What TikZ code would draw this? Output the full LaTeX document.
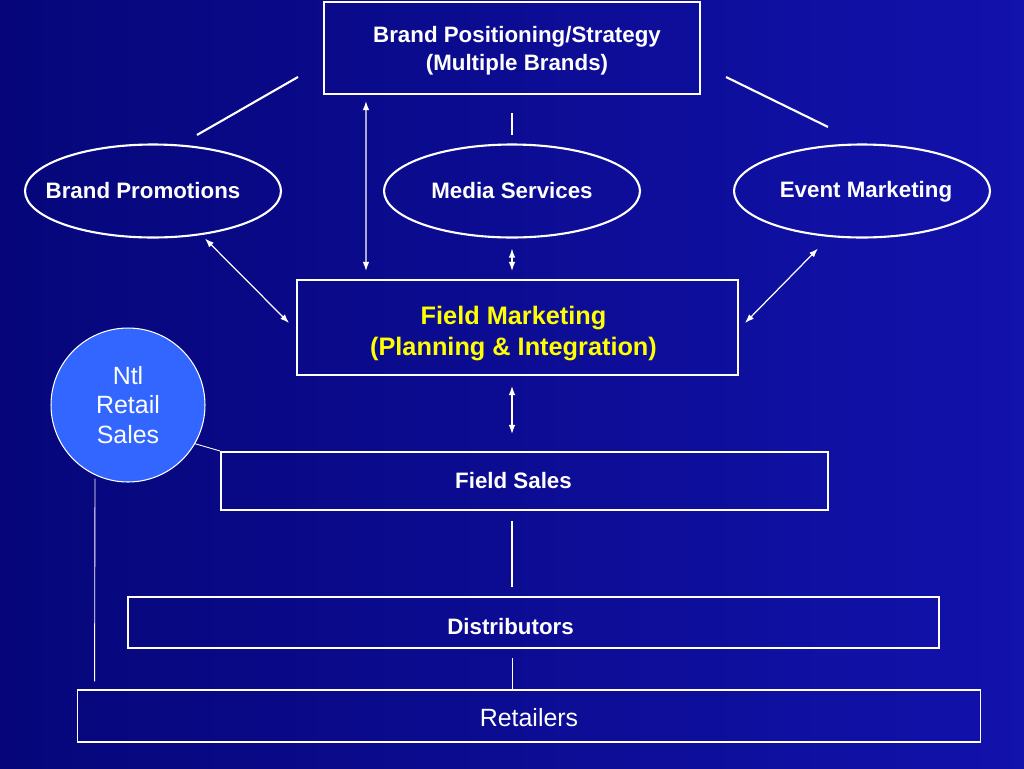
\documentclass[tikz,border=0pt]{standalone}
\usepackage{fontspec}
\setmainfont{Liberation Sans}
\usetikzlibrary{arrows.meta}
\usetikzlibrary{shapes}
\usetikzlibrary{calc}
\definecolor{bgblue}{RGB}{18,18,172}
\definecolor{bgdark}{RGB}{6,6,122}
\definecolor{ntlblue}{RGB}{51,102,255}
\definecolor{fmyellow}{RGB}{255,255,0}

\begin{document}
\begin{tikzpicture}[x=0.02cm, y=-0.02cm,
  box/.style={draw=white, line width=1.2pt, inner sep=0pt},
  oval/.style={ellipse, draw=white, line width=1.2pt, inner sep=0pt,
    minimum width=5.12cm, minimum height=1.86cm},
  lbl/.style={text=white, align=center, inner sep=0pt,
    font=\fontsize{12.7}{15.9}\selectfont\bfseries},
  plain/.style={text=white, align=center, inner sep=0pt,
    font=\fontsize{14.2}{17}\selectfont},
  link/.style={white, line width=1.2pt},
  thinlink/.style={white, line width=0.5pt},
  dbl/.style={white, line width=0.7pt, {Latex[length=1.8mm,width=1.3mm]}-{Latex[length=1.8mm,width=1.3mm]}}]
\shade[left color=bgdark, right color=bgblue] (0,0) rectangle (1024,768);
\useasboundingbox (0,0) rectangle (1024,768);

\node (brand) [box, minimum width=7.52cm, minimum height=1.84cm,
  label={[lbl, xshift=0.1cm, yshift=-0.06cm]center:Brand Positioning/Strategy\\(Multiple Brands)}] at (512,48) {};

\node (promo) [oval, label={[lbl, xshift=-0.2cm]center:Brand Promotions}] at (153,191) {};
\node (media) [oval, label={[lbl]center:Media Services}] at (512,191) {};
\node (event) [oval, label={[lbl, xshift=0.08cm, yshift=-0.02cm]center:Event Marketing}] at (862,191) {};

\node (fm) [box, minimum width=8.82cm, minimum height=1.9cm,
  label={[lbl, text=fmyellow, font=\fontsize{14.4}{17.2}\selectfont\bfseries, xshift=-0.08cm, yshift=-0.12cm]center:Field Marketing\\(Planning \& Integration)}] at (517.5,327.5) {};

\node (ntl) [circle, draw=white, line width=0.6pt, fill=ntlblue, minimum size=3.08cm, inner sep=0pt,
  label={[plain]center:Ntl\\Retail\\Sales}] at (128,405) {};

\node (sales) [box, minimum width=12.14cm, minimum height=1.16cm,
  label={[lbl, xshift=-0.22cm]center:Field Sales}] at (524.5,481) {};
\node (distrib) [box, minimum width=16.22cm, minimum height=1.02cm,
  label={[lbl, xshift=-0.46cm, yshift=-0.08cm]center:Distributors}] at (533.5,622.5) {};
\node (retail) [box, line width=0.6pt, minimum width=18.08cm, minimum height=1.04cm,
  label={[plain, yshift=-0.04cm]center:Retailers}] at (529,716) {};

\draw [link] ($(brand.west)+(-25,29)$) -- ($(promo.north)+(44,-8.5)$);
\draw [link] ($(brand.south)+(0,18)$) -- ($(media.north)+(0,-8.5)$);
\draw [link] ($(brand.east)+(25,29)$) -- ($(event.north)+(-34,-16.5)$);

\draw [dbl] ($(brand.south west)+(43,6)$) -- ($(fm.north west)+(70,-8)$);
\draw [dbl] ($(media.south)+(0,10)$) -- ($(media.south |- fm.north)+(0,-8)$);
\draw [dbl] ($(promo.south)+(52,0)$) -- ($(fm.west)+(-7,-4.5)$);
\draw [dbl] ($(event.south)+(-44,10)$) -- ($(fm.east)+(6,-4.5)$);
\draw [dbl] ($(fm.south)+(-5.5,10)$) -- ($(fm.south |- sales.north)+(-5.5,-17)$);

\draw [link] ($(sales.south)+(-12.5,10)$) -- ($(sales.south |- distrib.north)+(-12.5,-9)$);
\draw [thinlink] ($(distrib.south)+(-21.5,9)$) -- ($(distrib.south |- retail.north)+(-21.5,0)$);

\draw [thinlink] (ntl.-30) -- (sales.north west);
\draw [thinlink] ($(ntl.south)+(-33,-4)$) -- ($(retail.north west)+(18,-8)$);
\end{tikzpicture}
\end{document}
